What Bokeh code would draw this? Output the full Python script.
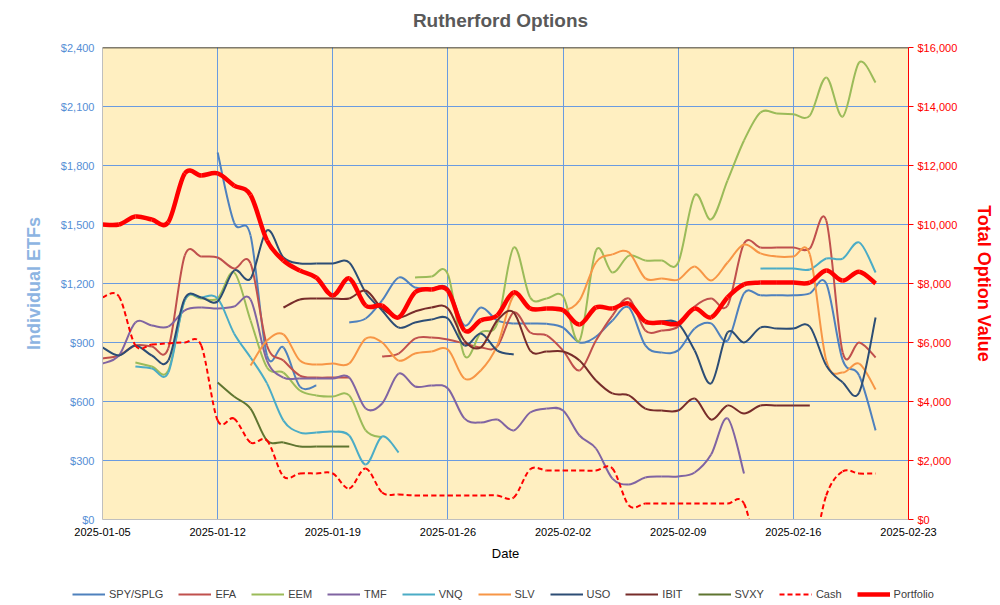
import datetime as dt
from bokeh.plotting import figure
from bokeh.models import (Range1d, LinearAxis, FixedTicker, NumeralTickFormatter,
                          DatetimeTickFormatter, Legend, LegendItem, Span, Label)
from bokeh.embed import file_html
from bokeh.resources import INLINE

N = None
start_date = dt.datetime(2025, 1, 5)
dates = [start_date + dt.timedelta(days=i) for i in range(48)]  # 2025-01-05 .. 2025-02-21
tick_dates = [start_date + dt.timedelta(days=7 * k) for k in range(8)]

spy = [N, N, N, N, N, N, N, 1866, 1510, 1444, 834, 875, 676, 681, N, 1002, 1022, 1114, 1230, 1180,
       1175, 1175, 987, 1078, 1012, 997, 997, 995, 976, 900, 930, 1012, 1078, 885, 849, 860, 971, 997,
       910, 1150, 1140, 1140, 1140, 1150, 1200, 810, 732, 453]
efa = [819, 834, 885, 880, 870, 1342, 1337, 1332, 1276, 1302, 885, 808, 732, 722, 722, 722, N, 829,
       844, 920, 925, 915, 895, 875, 880, 1053, 951, 936, 859, 758, 910, 1037, 1124, 961, 961, 981,
       1083, 1124, 1088, 1403, 1383, 1383, 1383, 1378, 1520, 849, 900, 824]
eem = [N, N, 798, 778, 758, 1114, 1124, 1124, 1256, 1012, 773, 747, 656, 631, 625, 631, 453, 417, N,
       1231, 1236, 1246, 834, 951, 997, 1383, 1129, 1124, 1134, 910, 1368, 1256, 1342, 1317, 1317,
       1307, 1648, 1526, 1724, 1927, 2070, 2065, 2060, 2054, 2248, 2049, 2324, 2222]
tmf = [793, 834, 1002, 986, 981, 1063, 1078, 1073, 1083, 1119, 808, 722, 717, 717, 717, 722, 564, 590,
       742, 676, 681, 666, 514, 493, 508, 453, 544, 564, 554, 427, 361, 208, 178, 214, 219, 219, 239,
       330, 514, 234, N, N, N, N, N, N, N, N]
vnq = [N, N, 778, 768, 747, 1114, 1129, 1124, 946, 824, 692, 503, 442, 442, 447, 427, 280, 422, 341,
       N, N, N, N, N, N, N, N, N, N, N, N, N, N, N, N, N, N, N, N, N,
       1276, 1276, 1276, 1271, 1327, 1327, 1409, 1256]
slv = [N, N, N, N, N, N, N, N, N, 783, 910, 941, 808, 788, 793, 793, 920, 900, 808, 844, 854, 864, 717,
       758, 885, 1139, 1078, 1073, 1063, 1114, 1307, 1348, 1358, 1226, 1226, 1220, 1287, 1215, 1307,
       1398, 1353, 1337, 1337, 1348, 808, 747, 793, 661]
uso = [875, 834, 885, 834, 808, 1124, 1129, 1109, 1266, 1225, 1470, 1332, 1302, 1302, 1302, 1307, 1154,
       1063, 976, 1002, 1017, 1022, 885, 946, 859, 839, N, N, N, N, N, N, N, 997, 1007, 997, 859, 692,
       951, 900, 976, 971, 971, 981, 783, 697, 646, 1027]
ibit = [N, N, N, N, N, N, N, N, N, N, N, 1078, 1119, 1124, 1124, 1124, 1164, 1073, 1027, 1058, 1078,
        1073, 910, 875, 1012, 1053, 859, 854, 854, 808, 707, 641, 631, 564, 554, 554, 615, 508, 580,
        539, 580, 580, 580, 580, N, N, N, N]
svxy = [N, N, N, N, N, N, N, 697, 625, 564, 402, 392, 371, 371, 371, 371, N, N, N, N, N, N, N, N,
        N, N, N, N, N, N, N, N, N, N, N, N, N, N, N, N, N, N, N, N, N, N, N, N]
cash = [7530, 7560, 5900, 5930, 5970, 6000, 5900, 3360, 3420, 2610, 2680, 1460, 1560, 1560, 1560, 1050,
        1730, 915, 850, 815, 815, 815, 815, 815, 815, 745, 1700, 1660, 1660, 1660, 1660, 1730, 475,
        540, 540, 540, 540, 540, 540, 540, -1500, -1500, -1500, -1500, 815, 1630, 1560, 1560]
portfolio = [10000, 10000, 10270, 10170, 10080, 11730, 11660, 11730, 11320, 11000, 9460, 8780, 8440,
             8200, 7590, 8170, 7250, 7250, 6850, 7700, 7800, 7760, 6410, 6750, 6920, 7700, 7150, 7150,
             7090, 6610, 7190, 7150, 7320, 6710, 6680, 6640, 7150, 6850, 7530, 7970, 8030, 8030, 8030,
             8030, 8440, 8100, 8400, 8000]

left_ticks = [0, 300, 600, 900, 1200, 1500, 1800, 2100, 2400]
right_ticks = [0, 2000, 4000, 6000, 8000, 10000, 12000, 14000, 16000]

series = [
    ("SPY/SPLG", spy, "#4F81BD", 2, None, "default"),
    ("EFA", efa, "#C0504D", 2, None, "default"),
    ("EEM", eem, "#9BBB59", 2, None, "default"),
    ("TMF", tmf, "#8064A2", 2, None, "default"),
    ("VNQ", vnq, "#4BACC6", 2, None, "default"),
    ("SLV", slv, "#F79646", 2, None, "default"),
    ("USO", uso, "#2C4D75", 2, None, "default"),
    ("IBIT", ibit, "#772C2A", 2, None, "default"),
    ("SVXY", svxy, "#5F7530", 2, None, "default"),
    ("Cash", cash, "#FF0000", 2, "5 3", "total"),
    ("Portfolio", portfolio, "#FF0000", 4.5, None, "total"),
]

FONT = "Liberation Sans"


def strip(height):
    f = figure(width=1000, height=height, output_backend="svg", toolbar_location=None,
               x_range=Range1d(0, 1), y_range=Range1d(0, 1),
               x_axis_location=None, y_axis_location=None, title=None,
               min_border_left=0, min_border_right=0, min_border_top=0, min_border_bottom=0)
    f.outline_line_color = None
    f.grid.visible = False
    f.border_fill_color = "white"
    f.background_fill_color = "white"
    return f


# title strip
top = strip(34)
top.add_layout(Label(x=500, y=14, x_units="screen", y_units="screen", text="Rutherford Options",
                     text_align="center", text_baseline="middle", text_font=FONT,
                     text_font_size="19px", text_font_style="bold", text_color="#595959"))

p = figure(width=1000, height=541, x_axis_type="datetime", output_backend="svg", toolbar_location=None,
           title=None,
           x_range=Range1d(dt.datetime(2025, 1, 5), dt.datetime(2025, 2, 23)),
           y_range=Range1d(0, 2400),
           min_border_left=102, min_border_right=92, min_border_top=13, min_border_bottom=56)
p.extra_y_ranges = {"total": Range1d(0, 16000)}
p.border_fill_color = "white"
p.outline_line_color = None
p.background_fill_color = "#FFEFC1"

# axes
xa = p.xaxis[0]
xa.ticker = FixedTicker(ticks=[d.timestamp() * 1000 for d in tick_dates])
fmt = "%Y-%m-%d"
xa.formatter = DatetimeTickFormatter(days=fmt, months=fmt, years=fmt, hours=fmt, minutes=fmt,
                                     seconds=fmt, milliseconds=fmt, microseconds=fmt, hourmin=fmt,
                                     minsec=fmt)
xa.axis_label = "Date"
xa.axis_label_text_font = FONT
xa.axis_label_text_font_size = "13px"
xa.axis_label_text_font_style = "normal"
xa.axis_label_text_color = "black"
xa.axis_label_standoff = 7
xa.major_label_text_font = FONT
xa.major_label_text_font_size = "11px"
xa.major_label_text_color = "black"
xa.axis_line_color = "#BFBFBF"
xa.major_tick_out = 0
xa.major_tick_in = 0
xa.minor_tick_out = 0
xa.minor_tick_in = 0
xa.major_label_standoff = 8

ya = p.yaxis[0]
ya.ticker = FixedTicker(ticks=left_ticks)
ya.formatter = NumeralTickFormatter(format="$0,0")
ya.axis_label = "Individual ETFs"
ya.axis_label_text_font = FONT
ya.axis_label_text_font_size = "18px"
ya.axis_label_text_font_style = "bold"
ya.axis_label_text_color = "#8DB4E2"
ya.major_label_text_font = FONT
ya.major_label_text_font_size = "11px"
ya.major_label_text_color = "#558ED5"
ya.axis_line_color = "#BFBFBF"
ya.major_tick_out = 0
ya.major_tick_in = 0
ya.minor_tick_out = 0
ya.minor_tick_in = 0
ya.major_label_standoff = 8
ya.axis_label_standoff = 14

ra = LinearAxis(y_range_name="total", ticker=FixedTicker(ticks=right_ticks),
                formatter=NumeralTickFormatter(format="$0,0"))
ra.axis_label = "Total Option Value"
ra.axis_label_text_font = FONT
ra.axis_label_text_font_size = "18px"
ra.axis_label_text_font_style = "bold"
ra.axis_label_text_color = "#FF0000"
ra.major_label_text_font = FONT
ra.major_label_text_font_size = "11px"
ra.major_label_text_color = "#FF0000"
ra.axis_line_color = "#FF0000"
ra.major_tick_line_color = "#FF0000"
ra.major_tick_out = 5
ra.major_tick_in = 0
ra.minor_tick_out = 0
ra.minor_tick_in = 0
ra.major_label_standoff = 4
ra.axis_label_standoff = 14
p.add_layout(ra, "right")

grid_color = "#6A9BE0"
p.xgrid.grid_line_color = grid_color
p.ygrid.grid_line_color = grid_color
p.xgrid.grid_line_width = 1
p.ygrid.grid_line_width = 1

p.add_layout(Span(location=2400, dimension="width", line_color="black", line_width=1.5))


def bezier_segments(xs, ys):
    out = {k: [] for k in ("x0", "y0", "x1", "y1", "cx0", "cy0", "cx1", "cy1")}
    seg = []
    runs = []
    for x, y in zip(xs, ys):
        if y is None:
            if seg:
                runs.append(seg)
            seg = []
        else:
            seg.append((x, y))
    if seg:
        runs.append(seg)
    for run in runs:
        n = len(run)
        for i in range(n - 1):
            p0 = run[i - 1] if i > 0 else run[i]
            p1 = run[i]
            p2 = run[i + 1]
            p3 = run[i + 2] if i + 2 < n else run[i + 1]
            out["x0"].append(p1[0]); out["y0"].append(p1[1])
            out["x1"].append(p2[0]); out["y1"].append(p2[1])
            out["cx0"].append(p1[0] + (p2[0] - p0[0]) / 6.0)
            out["cy0"].append(p1[1] + (p2[1] - p0[1]) / 6.0)
            out["cx1"].append(p2[0] - (p3[0] - p1[0]) / 6.0)
            out["cy1"].append(p2[1] - (p3[1] - p1[1]) / 6.0)
    return out


# legend strip
leg = strip(30)

nan = float("nan")
xms = [d.timestamp() * 1000 for d in dates]
items = []
for name, vals, color, width, dash, rng in series:
    segs = bezier_segments(xms, vals)
    kw = dict(line_color=color, line_width=width)
    if dash:
        kw["line_dash"] = dash
    p.bezier(y_range_name=rng, **segs, **kw)
    proxy = leg.line(x=[nan], y=[nan], **kw)
    items.append(LegendItem(label=name, renderers=[proxy]))

legend = Legend(items=items, orientation="horizontal", location=(72, 5),
                glyph_width=33, glyph_height=10, label_standoff=4, spacing=15,
                label_text_font=FONT, label_text_font_size="11px", label_text_color="#404040",
                border_line_color=None, background_fill_alpha=0, padding=3, margin=0)
leg.add_layout(legend, "center")

open("out.html", "w").write(file_html([top, p, leg], INLINE))
